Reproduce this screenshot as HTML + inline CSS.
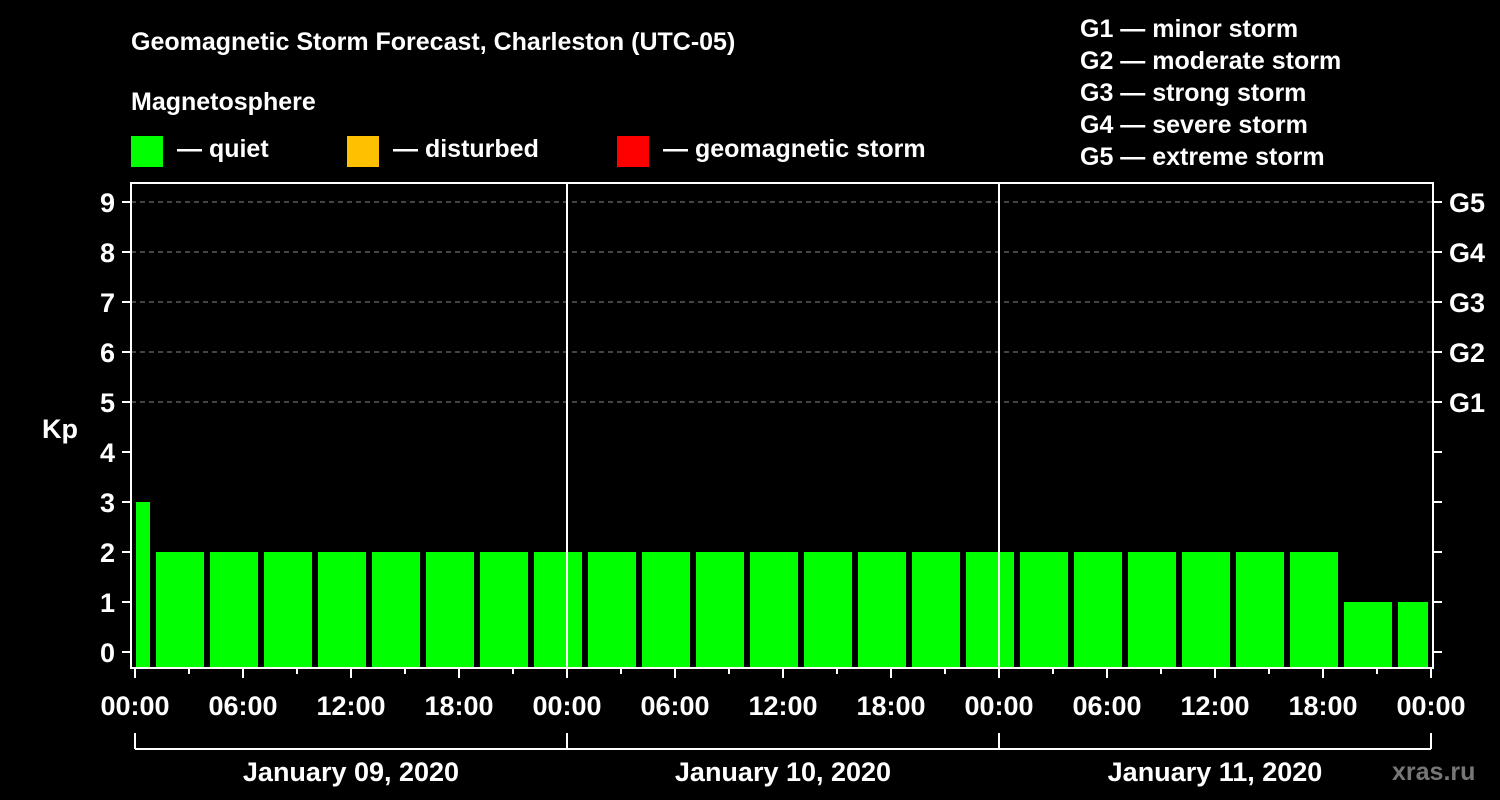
<!DOCTYPE html>
<html><head><meta charset="utf-8"><style>
html,body{margin:0;padding:0;background:#000;}
svg{display:block;font-family:"Liberation Sans",Arial,sans-serif;font-weight:bold;}
</style></head><body>
<svg id="chart" width="1500" height="800" viewBox="0 0 1500 800">
<rect width="1500" height="800" fill="#000"/>
<text x="131" y="50" fill="#fff" font-size="25">Geomagnetic Storm Forecast, Charleston (UTC-05)</text>
<text x="131" y="110" fill="#fff" font-size="25">Magnetosphere</text>
<g><rect x="131" y="136" width="32" height="31" fill="#00ff00"/><text x="177" y="157" fill="#fff" font-size="25">— quiet</text></g>
<g><rect x="347" y="136" width="32" height="31" fill="#ffc000"/><text x="393" y="157" fill="#fff" font-size="25">— disturbed</text></g>
<g><rect x="617" y="136" width="32" height="31" fill="#ff0000"/><text x="663" y="157" fill="#fff" font-size="25">— geomagnetic storm</text></g>
<g fill="#fff" font-size="25">
<text x="1080" y="37">G1 — minor storm</text>
<text x="1080" y="69">G2 — moderate storm</text>
<text x="1080" y="101">G3 — strong storm</text>
<text x="1080" y="133">G4 — severe storm</text>
<text x="1080" y="165">G5 — extreme storm</text>
</g>
<text x="42" y="438" fill="#fff" font-size="27">Kp</text>
<text x="1392" y="780" fill="#777" font-size="25">xras.ru</text>
<g id="grid"></g>
<g id="bars"></g>
<g id="axes"></g>
</svg>
<script>
const barStartHours=[0,1,4,7,10,13,16,19,22,25,28,31,34,37,40,43,46,49,52,55,58,61,64,67,70];
const barEndHours=[1,4,7,10,13,16,19,22,25,28,31,34,37,40,43,46,49,52,55,58,61,64,67,70,72];
const kpValues=[3,2,2,2,2,2,2,2,2,2,2,2,2,2,2,2,2,2,2,2,2,2,2,1,1];
const yTickLabels=["0","1","2","3","4","5","6","7","8","9"];
const gLabels=["G1","G2","G3","G4","G5"];
const xTickLabels=["00:00","06:00","12:00","18:00","00:00","06:00","12:00","18:00","00:00","06:00","12:00","18:00","00:00"];
const dayLabels=["January 09, 2020","January 10, 2020","January 11, 2020"];

const NS="http://www.w3.org/2000/svg";
const X0=135,PXH=18,Y0=652,PXK=50,TOP=183,BOT=668,LEFT=131,RIGHT=1433;
const xs=h=>X0+h*PXH, ys=k=>Y0-k*PXK;
function mk(tag,attrs,parent){const e=document.createElementNS(NS,tag);for(const k in attrs)e.setAttribute(k,attrs[k]);parent.appendChild(e);return e;}
const grid=document.getElementById('grid'),bars=document.getElementById('bars'),axes=document.getElementById('axes');
for(let i=0;i<gLabels.length;i++){
  const y=ys(5+i);
  const l=mk('line',{x1:LEFT,x2:RIGHT,y1:y,y2:y,stroke:'#888','stroke-dasharray':'5,4','stroke-width':1},grid);
  
  
  const t=mk('text',{x:1449,y:y+10,fill:'#fff','font-size':27},axes);t.textContent=gLabels[i];
  
  
}
for(let i=0;i<kpValues.length;i++){
  const s=barStartHours[i],e=barEndHours[i];
  let x1=xs(s)+3,x2=xs(e)-3; if(s===0)x1=xs(s)+1;
  const v=kpValues[i];
  const col=v>=5?'#ff0000':(v>=4?'#ffc000':'#00ff00');
  const r=mk('rect',{x:x1,y:ys(v),width:x2-x1,height:BOT-ys(v),fill:col},bars);
  
  
}
// frame
const f=mk('path',{d:`M${LEFT} ${TOP}V${BOT}H${RIGHT}V${TOP}`,stroke:'#fff','stroke-width':2,fill:'none'},axes);


mk('line',{x1:LEFT-1,x2:RIGHT+1,y1:TOP,y2:TOP,stroke:'#fff','stroke-width':2},axes);
for(let d=1;d<dayLabels.length;d++){
  const x=xs(24*d);
  const l=mk('line',{x1:x,x2:x,y1:TOP,y2:BOT,stroke:'#fff','stroke-width':2},axes);
  
  
}
for(let i=0;i<yTickLabels.length;i++){
  const y=ys(i);
  mk('line',{x1:LEFT-9,x2:LEFT,y1:y,y2:y,stroke:'#fff','stroke-width':2},axes);
  mk('line',{x1:RIGHT,x2:RIGHT+9,y1:y,y2:y,stroke:'#fff','stroke-width':2},axes);
  const t=mk('text',{x:115,y:y+10,fill:'#fff','font-size':27,'text-anchor':'end'},axes);t.textContent=yTickLabels[i];
  
  
}
for(let h=0;h<=72;h+=3){
  const x=xs(h),major=h%6===0;
  mk('line',{x1:x,x2:x,y1:BOT,y2:BOT+(major?10:6),stroke:'#fff','stroke-width':2},axes);
}
for(let i=0;i<xTickLabels.length;i++){
  const t=mk('text',{x:xs(i*6),y:715,fill:'#fff','font-size':27,'text-anchor':'middle'},axes);t.textContent=xTickLabels[i];
  
  
}
mk('line',{x1:xs(0),x2:xs(72),y1:749,y2:749,stroke:'#fff','stroke-width':2},axes);
for(let d=0;d<=dayLabels.length;d++){
  mk('line',{x1:xs(24*d),x2:xs(24*d),y1:733,y2:749,stroke:'#fff','stroke-width':2},axes);
}
for(let d=0;d<dayLabels.length;d++){
  const t=mk('text',{x:xs(24*d+12),y:781,fill:'#fff','font-size':27,'text-anchor':'middle'},axes);t.textContent=dayLabels[d];
  
  
}
</script>
</body></html>
